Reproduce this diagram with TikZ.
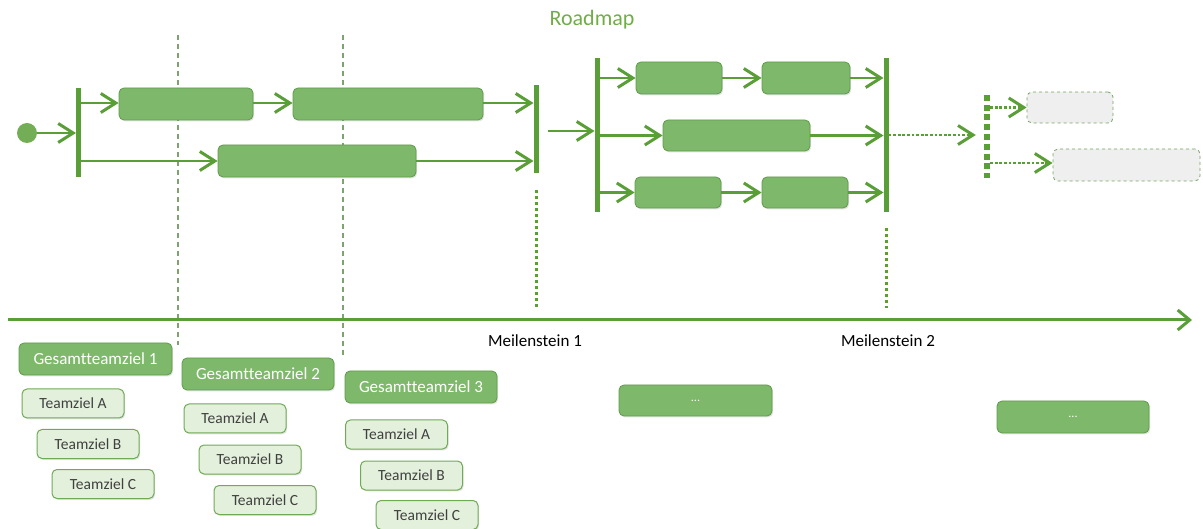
\documentclass[tikz,border=0pt]{standalone}
\usepackage{fontspec}
\setmainfont[Ligatures=NoCommon]{Carlito}
\usetikzlibrary{arrows.meta,shadows}

\definecolor{lineg}{HTML}{5A9E37}
\definecolor{boxg}{HTML}{7EB86A}
\definecolor{boxedge}{HTML}{5E9C48}
\definecolor{lightg}{HTML}{E3F0DB}
\definecolor{lightedge}{HTML}{6FAA55}
\definecolor{guide}{HTML}{7FA370}
\definecolor{titleg}{HTML}{70AD47}
\definecolor{ghost}{HTML}{EFEFEF}
\definecolor{ghostedge}{HTML}{74A463}
\definecolor{tztext}{HTML}{404040}

\begin{document}
\begin{tikzpicture}[x=1pt,y=-1pt,
  soft/.style={drop shadow={opacity=0.22,shadow xshift=1.2pt,shadow yshift=-1.4pt}},
  bar/.style={fill=lineg,minimum width=5pt,inner sep=0pt,outer sep=0pt},
  task/.style={draw=boxedge,fill=boxg,rounded corners=5pt,line width=0.8pt,inner sep=0pt,soft},
  ghostbox/.style={draw=ghostedge,fill=ghost,rounded corners=5pt,line width=0.8pt,dashed,inner sep=0pt},
  goal/.style={draw=boxedge,fill=boxg,rounded corners=5pt,line width=0.8pt,inner sep=0pt,
    text=white,font=\fontsize{17}{20}\selectfont,soft},
  teamgoal/.style={draw=lightedge,fill=lightg,rounded corners=5pt,line width=1pt,inner sep=0pt,
    minimum width=102pt,minimum height=29pt,text=tztext,font=\fontsize{15.5}{18}\selectfont,soft},
  tip/.style={-{Straight Barb[length=15pt,width=19pt,line width=3pt]}},
  flow/.style={lineg,line width=2.8pt,tip},
  dotflow/.style={lineg,line width=2.8pt,dash pattern=on 2.8pt off 1.8pt,tip},
  mline/.style={lineg,line width=3pt,dash pattern=on 3pt off 3pt},
  guideline/.style={guide,line width=1.4pt,dash pattern=on 5pt off 4pt},
  mlabel/.style={font=\fontsize{17}{20}\selectfont,text=black},
]
\useasboundingbox (0,0) rectangle (1203,529);

% title
\node[text=titleg,font=\fontsize{22}{26}\selectfont] (title) at (592,20) {Roadmap};

% planning guides
\coordinate (g1t) at (178,35);
\coordinate (g1b) at (178,345);
\coordinate (g2t) at (343,35);
\coordinate (g2b) at (343,358);
\draw[guideline] (g1t) -- (g1b);
\draw[guideline] (g2t) -- (g2b);

% start and first fork
\node[circle,fill=lineg!85!white,minimum size=20pt,inner sep=0pt] (start) at (27,133) {};
\node[bar,minimum height=89pt] (bar1) at (78.5,132.5) {};
\node[task,minimum width=134pt,minimum height=32pt] (t1) at (186,104) {};
\node[task,minimum width=190pt,minimum height=32pt] (t2) at (388,104) {};
\node[task,minimum width=198pt,minimum height=32pt] (t3) at (317,161) {};
\node[bar,minimum height=88pt] (bar2) at (536,129) {};

\draw[flow] (start.east) -- (start.east -| bar1.west);
\draw[flow] ([yshift=1pt]t1.west -| bar1.east) -- ([yshift=1pt]t1.west);
\draw[flow] ([yshift=1pt]t1.east) -- ([yshift=1pt]t2.west);
\draw[flow] ([yshift=1pt]t2.east) -- ([yshift=1pt]t2.east -| bar2.west);
\draw[flow] (t3.west -| bar1.east) -- (t3.west);
\draw[flow] (t3.east) -- (t3.east -| bar2.west);

% second fork
\node[bar,minimum height=154pt] (bar3) at (597,135) {};
\node[bar,minimum height=154pt] (bar4) at (886,135) {};
\node[task,minimum width=86pt,minimum height=32pt] (t4) at (679,78) {};
\node[task,minimum width=88pt,minimum height=32pt] (t5) at (806,78) {};
\node[task,minimum width=147pt,minimum height=31pt] (t6) at (736.5,135.5) {};
\node[task,minimum width=86pt,minimum height=31pt] (t7) at (678,192.5) {};
\node[task,minimum width=86pt,minimum height=31pt] (t8) at (805,192.5) {};

\draw[flow] ([xshift=9pt,yshift=-2pt]bar2.east) -- ([yshift=-2pt]bar2.east -| bar3.west);
\draw[flow] (t4.west -| bar3.east) -- (t4.west);
\draw[flow] (t4.east) -- (t5.west);
\draw[flow] (t5.east) -- (t5.east -| bar4.west);
\draw[flow] (t6.west -| bar3.east) -- (t6.west);
\draw[flow] (t6.east) -- (t6.east -| bar4.west);
\draw[flow] (t7.west -| bar3.east) -- (t7.west);
\draw[flow] (t7.east) -- (t8.west);
\draw[flow] (t8.east) -- (t8.east -| bar4.west);

% tentative fork
\node[minimum width=6pt,minimum height=83pt,inner sep=0pt] (bar5) at (987,136.5) {};
\draw[lineg,line width=6pt,dash pattern=on 6pt off 3.8pt] (bar5.north) -- (bar5.south);
\node[ghostbox,minimum width=86pt,minimum height=31pt] (t9) at (1070,107.5) {};
\node[ghostbox,minimum width=147pt,minimum height=32pt] (t10) at (1126.5,165) {};

\draw[dotflow] (bar4.east) -- ([xshift=-8pt]bar4.east -| bar5.west);
\draw[dotflow] (t9.west -| bar5.east) -- (t9.west);
\draw[dotflow] ([yshift=2pt]t10.west -| bar5.east) -- ([yshift=2pt]t10.west);

% timeline and milestones
\coordinate (tl0) at (8,320);
\coordinate (tl1) at (1192,320);
\draw[lineg,line width=3pt,-{Straight Barb[length=12pt,width=20pt,line width=3pt]}] (tl0) -- (tl1);
\draw[mline] ([yshift=-17pt]bar2.south) -- ([yshift=12pt]bar2.south |- tl0);
\draw[mline] ([yshift=-16pt]bar4.south) -- ([yshift=12pt]bar4.south |- tl0);
\node[mlabel] (m1) at (535,341) {Meilenstein 1};
\node[mlabel] (m2) at (888,341) {Meilenstein 2};

% goals
\node[goal,minimum width=153pt,minimum height=32pt] (gz1) at (95.5,359) {Gesamtteamziel 1};
\node[goal,minimum width=152pt,minimum height=32pt] (gz2) at (258,374) {Gesamtteamziel 2};
\node[goal,minimum width=152pt,minimum height=32pt] (gz3) at (421,387) {Gesamtteamziel 3};
\node[goal,minimum width=153pt,minimum height=31pt,font=\fontsize{12}{14}\selectfont] (gz4) at (695.5,400.5) {...};
\node[goal,minimum width=152pt,minimum height=32pt,font=\fontsize{12}{14}\selectfont] (gz5) at (1073,417) {...};

\node[teamgoal] (a1) at (73,403.5) {Teamziel A};
\node[teamgoal] (b1) at (88,444) {Teamziel B};
\node[teamgoal] (c1) at (103,484) {Teamziel C};
\node[teamgoal] (a2) at (235,418.5) {Teamziel A};
\node[teamgoal] (b2) at (250,459.5) {Teamziel B};
\node[teamgoal] (c2) at (265,500) {Teamziel C};
\node[teamgoal] (a3) at (396.5,434.5) {Teamziel A};
\node[teamgoal] (b3) at (411.5,475.5) {Teamziel B};
\node[teamgoal] (c3) at (427,515) {Teamziel C};
\end{tikzpicture}
\end{document}
